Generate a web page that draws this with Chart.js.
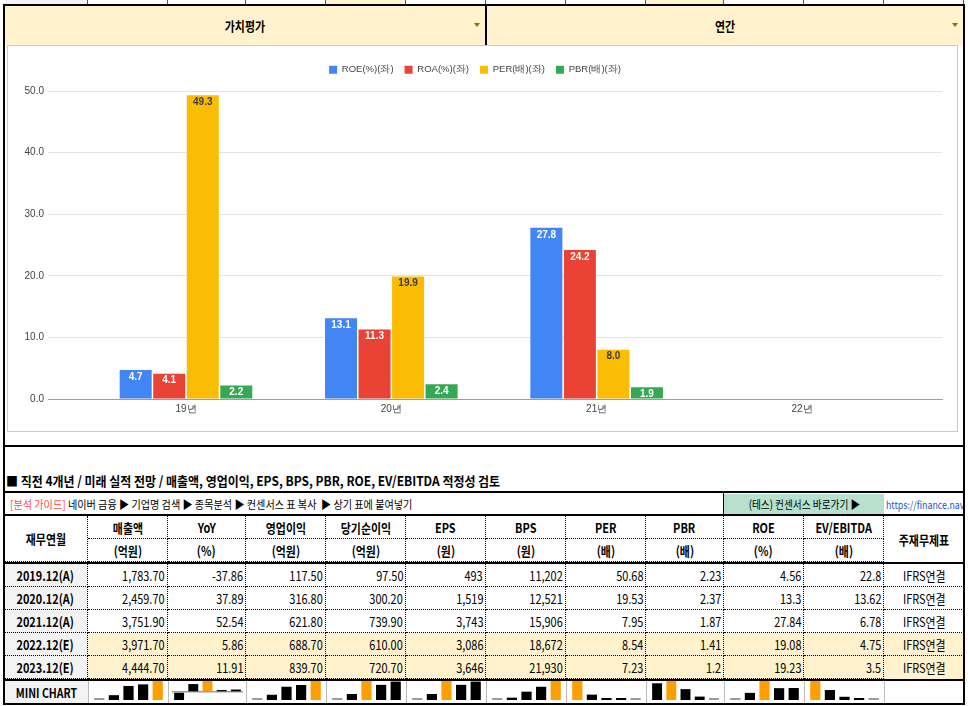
<!DOCTYPE html>
<html>
<head>
<meta charset="utf-8">
<script src="https://cdn.jsdelivr.net/npm/chart.js@4.4.0/dist/chart.umd.min.js"></script>
<style>
  body { margin: 0; background: #fff; overflow: hidden; }
  #page { position: relative; width: 968px; height: 706px; font-family: "Noto Sans CJK KR", "Noto Sans", sans-serif; color: #000; }
  .c { position: absolute; box-sizing: border-box; display: flex; align-items: center; overflow: hidden; white-space: nowrap; }
  .bd { border-right: 1px dotted #000; border-bottom: 1px dotted #000; }
  .ctr { justify-content: center; }
  .rt { justify-content: flex-end; padding-right: 2px; }
  .c > span { display: inline-block; transform: scaleX(.84); }
  .rt > span { transform-origin: right center; }
  .lf > span { transform-origin: left center; }
  .b { font-weight: bold; }
  .gray { background: #f3f3f3; }
  .yel { background: #fff2cc; }
  .line { position: absolute; background: #000; }
  #chartBox { position: absolute; left: 7px; top: 45px; width: 951px; height: 387px; box-sizing: border-box; border: 1px solid #c9c9c9; }
  #chartWrap { position: absolute; left: 8px; top: 46px; width: 950px; height: 386px; }
  .arrow { position: absolute; width: 0; height: 0; border-left: 3px solid transparent; border-right: 3px solid transparent; border-top: 4px solid #8a6d10; }
</style>
</head>
<body>
<div id="page">
  <div id="chartBox"></div>
  <div id="chartWrap"><canvas id="chart"></canvas></div>
</div>
<script>
// chart data
const years = ['19년', '20년', '21년', '22년'];
const roeBars = [4.7, 13.1, 27.8];
const roaBars = [4.1, 11.3, 24.2];
const perBars = [49.3, 19.9, 8.0];
const pbrBars = [2.2, 2.4, 1.9];
const yTicks = [0, 10, 20, 30, 40, 50];

// table data
const periods = ['2019.12(A)', '2020.12(A)', '2021.12(A)', '2022.12(E)', '2023.12(E)'];
const sales = [1783.70, 2459.70, 3751.90, 3971.70, 4444.70];
const yoy = [-37.86, 37.89, 52.54, 5.86, 11.91];
const opIncome = [117.50, 316.80, 621.80, 688.70, 839.70];
const netIncome = [97.50, 300.20, 739.90, 610.00, 720.70];
const eps = [493, 1519, 3743, 3086, 3646];
const bps = [11202, 12521, 15906, 18672, 21930];
const per = [50.68, 19.53, 7.95, 8.54, 7.23];
const pbr = [2.23, 2.37, 1.87, 1.41, 1.2];
const roe = [4.56, 13.3, 27.84, 19.08, 19.23];
const evEbitda = [22.8, 13.62, 6.78, 4.75, 3.5];
const basis = ['IFRS연결', 'IFRS연결', 'IFRS연결', 'IFRS연결', 'IFRS연결'];

const headNames = ['매출액', 'YoY', '영업이익', '당기순이익', 'EPS', 'BPS', 'PER', 'PBR', 'ROE', 'EV/EBITDA'];
const headUnits = ['(억원)', '(%)', '(억원)', '(억원)', '(원)', '(원)', '(배)', '(배)', '(%)', '(배)'];

const page = document.getElementById('page');
const colX = [4, 88, 168, 246, 326, 406, 486, 566, 646, 724, 804, 884, 964];

function box(x1, y1, x2, y2, cls, html) {
  const d = document.createElement('div');
  d.className = 'c ' + (cls || '');
  d.style.left = x1 + 'px';
  d.style.top = y1 + 'px';
  d.style.width = (x2 - x1) + 'px';
  d.style.height = (y2 - y1) + 'px';
  if (html != null) d.innerHTML = '<span>' + html + '</span>';
  page.appendChild(d);
  return d;
}
function hline(x1, x2, y, h) {
  const d = document.createElement('div');
  d.className = 'line';
  d.style.cssText = `left:${x1}px;top:${y}px;width:${x2 - x1}px;height:${h}px`;
  page.appendChild(d);
}
function vline(x, y1, y2, w) {
  const d = document.createElement('div');
  d.className = 'line';
  d.style.cssText = `left:${x}px;top:${y1}px;width:${w}px;height:${y2 - y1}px`;
  page.appendChild(d);
}

// strip of the table above
for (let i = 0; i < colX.length - 1; i++) {
  const cls = i === 0 ? 'gray' : (i === 4 || i === 8) ? 'yel' : '';
  const d = box(colX[i], 0, colX[i + 1], 5, cls);
  d.style.borderRight = '1px solid #555';
}

// header selector row
box(5, 6, 485, 45, 'yel ctr b', '가치평가').style.fontSize = '13px';
box(487, 6, 963, 45, 'yel ctr b', '연간').style.fontSize = '13px';
[474, 952].forEach(x => {
  const a = document.createElement('div');
  a.className = 'arrow';
  a.style.left = x + 'px';
  a.style.top = '23px';
  page.appendChild(a);
});
vline(485, 6, 45, 2);

// title + guide rows
const t = box(6, 469, 760, 491, 'lf b', '■ 직전 4개년 / 미래 실적 전망 / 매출액, 영업이익, EPS, BPS, PBR, ROE, EV/EBITDA 적정성 검토');
t.style.fontSize = '13px';
t.firstChild.style.transform = 'scaleX(.92)';
const g = box(10, 494, 723, 514, 'lf', '<b style="color:#ff4b4b;font-weight:normal">[분석 가이드]</b> 네이버 금융 ▶ 기업명 검색 ▶ 종목분석 ▶ 컨센서스 표 복사 &nbsp;▶ 상기 표에 붙여넣기');
g.style.fontSize = '11.5px';
g.firstChild.style.transform = 'scaleX(.88)';
const gr = box(724, 494, 884, 514, 'ctr', '(테스) 컨센서스 바로가기 ▶');
gr.style.background = '#b7e1cd';
gr.style.fontSize = '11.5px';
const lk = box(886, 494, 963, 514, 'lf', 'https://finance.naver.com');
lk.style.fontSize = '10.5px';
lk.style.color = '#1155cc';
vline(723, 493, 515, 1);

// table header
const H1 = 516, H2 = 539, H3 = 562;
box(colX[0], H1, colX[1], H3, 'bd ctr b', '재무연월').style.fontSize = '13px';
for (let i = 0; i < headNames.length; i++) {
  box(colX[i + 1], H1, colX[i + 2], H2, 'bd ctr b', headNames[i]).style.fontSize = '13px';
  box(colX[i + 1], H2, colX[i + 2], H3, 'bd ctr b', headUnits[i]).style.fontSize = '13px';
}
box(colX[11], H1, colX[12], H3, 'ctr b', '주재무제표').style.fontSize = '13px';

// table body
const fmt2 = v => v.toLocaleString('en-US', { minimumFractionDigits: 2, maximumFractionDigits: 2 });
const fmt0 = v => v.toLocaleString('en-US');
const plain = v => String(v);
const columns = [
  [sales, fmt2], [yoy, plain], [opIncome, fmt2], [netIncome, fmt2], [eps, fmt0],
  [bps, fmt0], [per, plain], [pbr, plain], [roe, plain], [evEbitda, plain]
];
const rowY = [564, 587, 610, 633, 656, 679];
periods.forEach((p, r) => {
  const y1 = rowY[r], y2 = rowY[r + 1];
  const bg = r >= 3 ? ' yel' : '';
  box(colX[0], y1, colX[1], y2, 'bd ctr b gray', p).style.fontSize = '13px';
  columns.forEach(([vals, f], c) => {
    box(colX[c + 1], y1, colX[c + 2], y2, 'bd rt' + bg, f(vals[r])).style.fontSize = '13px';
  });
  const last = box(colX[11], y1, colX[12], y2, 'ctr' + bg, basis[r]);
  last.style.fontSize = '13px';
  if (r < 4) last.style.borderBottom = '1px dotted #000';
});

// mini chart row
const M1 = 681, M2 = 703;
box(colX[0], M1, colX[1], M2, 'ctr b gray', 'MINI CHART').style.fontSize = '12.5px';
const miniCanvases = [];
columns.forEach(([vals], c) => {
  const d = box(colX[c + 1], M1, colX[c + 2], M2, '');
  d.style.borderLeft = '1px solid #bbb';
  d.style.alignItems = 'flex-start';
  const cv = document.createElement('canvas');
  cv.width = colX[c + 2] - colX[c + 1] - 1;
  cv.height = M2 - M1;
  cv.style.display = 'block';
  d.appendChild(cv);
  miniCanvases.push([cv, vals]);
});
box(colX[11], M1, colX[12], M2, '').style.borderLeft = '1px solid #bbb';

// heavy rules
hline(4, 964, 4, 2);
hline(4, 964, 445, 2);
hline(4, 964, 491, 2);
hline(4, 964, 514, 2);
hline(4, 964, 562, 2);
hline(4, 964, 679, 2);
hline(4, 964, 703, 2);
vline(3, 4, 705, 2);
vline(963, 4, 705, 2);

// main chart
const barLabels = {
  id: 'barLabels',
  afterDatasetsDraw(chart) {
    const ctx = chart.ctx;
    ctx.save();
    ctx.font = 'bold 10px "Liberation Sans", Arial, sans-serif';
    ctx.textAlign = 'center';
    ctx.textBaseline = 'middle';
    chart.data.datasets.forEach((ds, di) => {
      chart.getDatasetMeta(di).data.forEach((bar, i) => {
        ctx.fillStyle = ds.labelColor;
        ctx.fillText(ds.data[i].y.toFixed(1), bar.x, bar.y + 7);
      });
    });
    ctx.restore();
  }
};
const legendSpace = {
  id: 'legendSpace',
  beforeInit(chart) {
    if (!chart.legend) return;
    const fit = chart.legend.fit;
    chart.legend.fit = function () { fit.call(this); this.height = 37; };
  }
};
const pts = arr => arr.map((v, i) => ({ x: i, y: v }));
const chartFont = '"Liberation Sans", Arial, sans-serif';

new Chart(document.getElementById('chart'), {
  type: 'bar',
  data: {
    datasets: [
      { label: 'ROE(%)(좌)', data: pts(roeBars), backgroundColor: '#4285f4', labelColor: '#fff' },
      { label: 'ROA(%)(좌)', data: pts(roaBars), backgroundColor: '#ea4335', labelColor: '#fff' },
      { label: 'PER(배)(좌)', data: pts(perBars), backgroundColor: '#fbbc04', labelColor: '#3c3c3c' },
      { label: 'PBR(배)(좌)', data: pts(pbrBars), backgroundColor: '#34a853', labelColor: '#fff' }
    ]
  },
  options: {
    responsive: true,
    maintainAspectRatio: false,
    animation: false,
    events: [],
    layout: { padding: { top: 8, right: 16, left: 0, bottom: 0 } },
    datasets: { bar: { categoryPercentage: 0.653, barPercentage: 0.955 } },
    plugins: {
      legend: {
        labels: { boxWidth: 8, boxHeight: 8, padding: 11, color: '#444', font: { size: 9.5, family: chartFont } }
      },
      tooltip: { enabled: false }
    },
    scales: {
      x: {
        type: 'linear',
        offset: false,
        min: -0.672,
        max: 3.682,
        grid: { display: false, offset: false },
        border: { color: '#9e9e9e' },
        afterBuildTicks: s => { s.ticks = years.map((_, i) => ({ value: i })); },
        afterFit: s => { s.height = 33; },
        ticks: { callback: v => years[v], padding: -4, color: '#444', autoSkip: false, maxRotation: 0, font: { size: 10, family: chartFont } }
      },
      y: {
        min: 0,
        max: 50,
        afterBuildTicks: s => { s.ticks = yTicks.map(v => ({ value: v })); },
        afterFit: s => { s.width = 40; },
        grid: { color: '#e3e3e3', drawTicks: false },
        border: { display: false },
        ticks: { callback: v => v.toFixed(1), padding: 4, color: '#444', font: { size: 10, family: chartFont } }
      }
    }
  },
  plugins: [barLabels, legendSpace]
});

// sparklines
miniCanvases.forEach(([cv, vals]) => {
  const lo = Math.min(...vals), hi = Math.max(...vals);
  const neg = lo < 0;
  new Chart(cv, {
    type: 'bar',
    data: {
      labels: periods,
      datasets: [{
        data: vals,
        base: neg ? 0 : lo,
        minBarLength: 2,
        clip: false,
        categoryPercentage: 1,
        barPercentage: 0.7,
        backgroundColor: vals.map(v => v === hi ? '#ff9e00' : (v === lo && !neg) ? '#9a9a9a' : '#000')
      }]
    },
    options: {
      responsive: false,
      animation: false,
      events: [],
      layout: { padding: { left: 3, right: 3, top: 0, bottom: 3 } },
      plugins: { legend: { display: false }, tooltip: { enabled: false } },
      scales: {
        x: { display: false },
        y: {
          display: neg,
          min: lo,
          max: hi,
          afterBuildTicks: s => { s.ticks = [{ value: 0 }]; },
          afterFit: s => { s.width = 0; },
          ticks: { display: false },
          border: { display: false },
          grid: { drawTicks: false, color: '#9a9a9a', lineWidth: 1.5 }
        }
      }
    }
  });
});
</script>
</body>
</html>
